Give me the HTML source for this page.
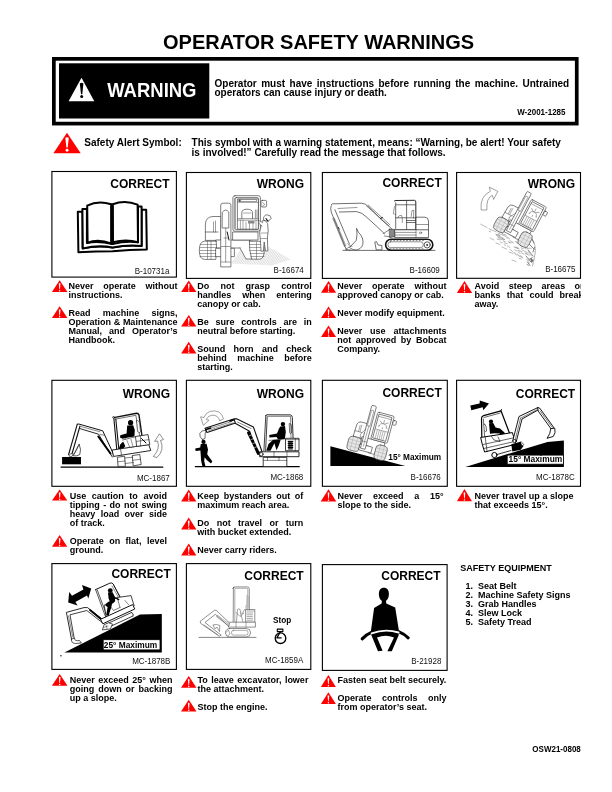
<!DOCTYPE html>
<html><head><meta charset="utf-8"><title>Operator Safety Warnings</title>
<style>
html,body{margin:0;padding:0;background:#fff;}
body{width:612px;height:792px;overflow:hidden;position:relative;}
svg{position:absolute;left:0;top:0;will-change:transform;}
text{font-family:"Liberation Sans",sans-serif;font-weight:bold;}
</style></head><body>
<svg width="612" height="792" viewBox="0 0 612 792">
<defs><clipPath id="pg"><rect x="0" y="0" width="581.1" height="792"/></clipPath></defs>
<rect x="53.85" y="58.85" width="522.9" height="64.75" fill="none" stroke="#000" stroke-width="3.7"/>
<rect x="59" y="63.3" width="150.3" height="55.2" fill="#000"/>
<path d="M81.5 77.8L94.3 101.2L68.6 101.2Z" fill="#fff"/>
<path d="M79.8 83.6Q81.6 81.9 83.4 83.6L82.3 94.2L81.0 94.2Z" fill="#000"/>
<circle cx="81.7" cy="96.6" r="1.5" fill="#000"/>
<path d="M67.0 132.7L80.7 153.2L53.4 153.2Z" fill="#f00"/>
<path d="M65.3 137.8Q67 136.5 68.8 137.8L67.7 147.6L66.4 147.6Z" fill="#fff"/>
<circle cx="67.05" cy="150.2" r="1.45" fill="#fff"/>
<rect x="51.90" y="171.50" width="124.50" height="105.60" fill="none" stroke="#000" stroke-width="1.10"/>
<rect x="186.40" y="172.50" width="124.40" height="105.90" fill="none" stroke="#000" stroke-width="1.10"/>
<rect x="322.40" y="172.50" width="124.90" height="105.90" fill="none" stroke="#000" stroke-width="1.10"/>
<rect x="456.60" y="172.50" width="123.90" height="105.80" fill="none" stroke="#000" stroke-width="1.10"/>
<rect x="51.90" y="380.30" width="124.50" height="106.00" fill="none" stroke="#000" stroke-width="1.10"/>
<rect x="186.40" y="380.30" width="124.40" height="106.00" fill="none" stroke="#000" stroke-width="1.10"/>
<rect x="322.40" y="380.30" width="124.90" height="106.00" fill="none" stroke="#000" stroke-width="1.10"/>
<rect x="456.60" y="380.30" width="123.90" height="106.00" fill="none" stroke="#000" stroke-width="1.10"/>
<rect x="51.90" y="563.60" width="124.50" height="105.80" fill="none" stroke="#000" stroke-width="1.10"/>
<rect x="186.40" y="563.60" width="124.40" height="105.80" fill="none" stroke="#000" stroke-width="1.10"/>
<rect x="322.40" y="564.60" width="124.70" height="105.80" fill="none" stroke="#000" stroke-width="1.10"/>
<path d="M59.65 280.20L67.40 291.90L51.90 291.90Z" fill="#f00"/>
<path d="M58.80 283.62Q59.65 282.62 60.50 283.62L59.95 289.33L59.35 289.33Z" fill="#fff"/>
<circle cx="59.65" cy="290.67" r="0.75" fill="#fff"/>
<path d="M59.65 306.30L67.40 318.10L51.90 318.10Z" fill="#f00"/>
<path d="M58.80 309.75Q59.65 308.75 60.50 309.75L59.95 315.50L59.35 315.50Z" fill="#fff"/>
<circle cx="59.65" cy="316.86" r="0.75" fill="#fff"/>
<path d="M188.75 280.50L196.40 292.10L181.10 292.10Z" fill="#f00"/>
<path d="M187.90 283.90Q188.75 282.90 189.60 283.90L189.05 289.55L188.45 289.55Z" fill="#fff"/>
<circle cx="188.75" cy="290.88" r="0.75" fill="#fff"/>
<path d="M188.75 314.90L196.40 326.50L181.10 326.50Z" fill="#f00"/>
<path d="M187.90 318.30Q188.75 317.30 189.60 318.30L189.05 323.95L188.45 323.95Z" fill="#fff"/>
<circle cx="188.75" cy="325.28" r="0.75" fill="#fff"/>
<path d="M188.75 341.70L196.40 353.50L181.10 353.50Z" fill="#f00"/>
<path d="M187.90 345.15Q188.75 344.15 189.60 345.15L189.05 350.90L188.45 350.90Z" fill="#fff"/>
<circle cx="188.75" cy="352.26" r="0.75" fill="#fff"/>
<path d="M328.55 281.00L336.10 292.80L321.00 292.80Z" fill="#f00"/>
<path d="M327.70 284.45Q328.55 283.45 329.40 284.45L328.85 290.20L328.25 290.20Z" fill="#fff"/>
<circle cx="328.55" cy="291.56" r="0.75" fill="#fff"/>
<path d="M328.55 306.40L336.10 318.10L321.00 318.10Z" fill="#f00"/>
<path d="M327.70 309.82Q328.55 308.82 329.40 309.82L328.85 315.53L328.25 315.53Z" fill="#fff"/>
<circle cx="328.55" cy="316.87" r="0.75" fill="#fff"/>
<path d="M328.55 325.50L336.10 337.10L321.00 337.10Z" fill="#f00"/>
<path d="M327.70 328.90Q328.55 327.90 329.40 328.90L328.85 334.55L328.25 334.55Z" fill="#fff"/>
<circle cx="328.55" cy="335.88" r="0.75" fill="#fff"/>
<path d="M464.50 280.90L472.20 292.90L456.80 292.90Z" fill="#f00"/>
<path d="M463.65 284.40Q464.50 283.40 465.35 284.40L464.80 290.26L464.20 290.26Z" fill="#fff"/>
<circle cx="464.50" cy="291.64" r="0.75" fill="#fff"/>
<path d="M59.65 489.60L67.30 500.60L52.00 500.60Z" fill="#f00"/>
<path d="M58.80 492.85Q59.65 491.85 60.50 492.85L59.95 498.18L59.35 498.18Z" fill="#fff"/>
<circle cx="59.65" cy="499.45" r="0.75" fill="#fff"/>
<path d="M59.65 535.10L67.30 546.80L52.00 546.80Z" fill="#f00"/>
<path d="M58.80 538.52Q59.65 537.52 60.50 538.52L59.95 544.23L59.35 544.23Z" fill="#fff"/>
<circle cx="59.65" cy="545.57" r="0.75" fill="#fff"/>
<path d="M188.75 489.60L196.40 501.50L181.10 501.50Z" fill="#f00"/>
<path d="M187.90 493.08Q188.75 492.08 189.60 493.08L189.05 498.88L188.45 498.88Z" fill="#fff"/>
<circle cx="188.75" cy="500.25" r="0.75" fill="#fff"/>
<path d="M188.75 517.50L196.40 529.60L181.10 529.60Z" fill="#f00"/>
<path d="M187.90 521.02Q188.75 520.02 189.60 521.02L189.05 526.94L188.45 526.94Z" fill="#fff"/>
<circle cx="188.75" cy="528.33" r="0.75" fill="#fff"/>
<path d="M188.75 543.50L196.40 555.50L181.10 555.50Z" fill="#f00"/>
<path d="M187.90 547.00Q188.75 546.00 189.60 547.00L189.05 552.86L188.45 552.86Z" fill="#fff"/>
<circle cx="188.75" cy="554.24" r="0.75" fill="#fff"/>
<path d="M328.50 489.30L336.30 501.40L320.70 501.40Z" fill="#f00"/>
<path d="M327.65 492.82Q328.50 491.82 329.35 492.82L328.80 498.74L328.20 498.74Z" fill="#fff"/>
<circle cx="328.50" cy="500.13" r="0.75" fill="#fff"/>
<path d="M464.45 489.10L472.00 501.30L456.90 501.30Z" fill="#f00"/>
<path d="M463.60 492.65Q464.45 491.65 465.30 492.65L464.75 498.62L464.15 498.62Z" fill="#fff"/>
<circle cx="464.45" cy="500.02" r="0.75" fill="#fff"/>
<path d="M59.70 673.90L67.50 685.70L51.90 685.70Z" fill="#f00"/>
<path d="M58.85 677.35Q59.70 676.35 60.55 677.35L60.00 683.10L59.40 683.10Z" fill="#fff"/>
<circle cx="59.70" cy="684.46" r="0.75" fill="#fff"/>
<path d="M188.75 676.10L196.50 687.80L181.00 687.80Z" fill="#f00"/>
<path d="M187.90 679.52Q188.75 678.52 189.60 679.52L189.05 685.23L188.45 685.23Z" fill="#fff"/>
<circle cx="188.75" cy="686.57" r="0.75" fill="#fff"/>
<path d="M188.75 699.80L196.50 711.50L181.00 711.50Z" fill="#f00"/>
<path d="M187.90 703.22Q188.75 702.22 189.60 703.22L189.05 708.93L188.45 708.93Z" fill="#fff"/>
<circle cx="188.75" cy="710.27" r="0.75" fill="#fff"/>
<path d="M328.40 674.90L335.90 687.00L320.90 687.00Z" fill="#f00"/>
<path d="M327.55 678.42Q328.40 677.42 329.25 678.42L328.70 684.34L328.10 684.34Z" fill="#fff"/>
<circle cx="328.40" cy="685.73" r="0.75" fill="#fff"/>
<path d="M328.40 692.30L335.90 703.90L320.90 703.90Z" fill="#f00"/>
<path d="M327.55 695.70Q328.40 694.70 329.25 695.70L328.70 701.35L328.10 701.35Z" fill="#fff"/>
<circle cx="328.40" cy="702.68" r="0.75" fill="#fff"/>
<g fill="#fff" stroke="#000" stroke-width="2" stroke-linejoin="round">
<path d="M77.8 211.8H82.6V248.3Q98 245 112.5 247.6Q127 244.6 141.6 245.9V209.8H146.2L146.8 249.4Q130 249.6 112.5 251.2Q96 251.4 78.4 252.2Z"/>
<path d="M82.4 208.9H86.9V243Q98 240.4 112.5 244.1Q126 240.6 138 242.3V206.5H141.6V246Q127 244.6 112.5 247.4Q98 244.8 82.8 248.5Z"/>
<path d="M87.2 205.6Q98 200.3 111.2 204.2V243.4Q98 238.6 87.6 242.7Z"/>
<path d="M112.8 204.2Q125 199.6 137.6 204.6L138 242.2Q126 238.6 113 242.2Z"/>
</g>
<path d="M112 203.6V245" stroke="#000" stroke-width="2.8"/>
<g fill="#fff" stroke="#3a3a3a" stroke-width="0.65" stroke-linejoin="round" stroke-linecap="round">
<defs><clipPath id="hc1"><path d="M231 263.5L246 241.5L258 240.5L290.5 259.5L272 265.5Z"/></clipPath></defs>
<g stroke="#bdbdbd" stroke-width="0.5" clip-path="url(#hc1)">
<path d="M222.0 266L236.0 240"/>
<path d="M223.7 266L237.7 240"/>
<path d="M225.4 266L239.4 240"/>
<path d="M227.1 266L241.1 240"/>
<path d="M228.8 266L242.8 240"/>
<path d="M230.5 266L244.5 240"/>
<path d="M232.2 266L246.2 240"/>
<path d="M233.9 266L247.9 240"/>
<path d="M235.6 266L249.6 240"/>
<path d="M237.3 266L251.3 240"/>
<path d="M239.0 266L253.0 240"/>
<path d="M240.7 266L254.7 240"/>
<path d="M242.4 266L256.4 240"/>
<path d="M244.1 266L258.1 240"/>
<path d="M245.8 266L259.8 240"/>
<path d="M247.5 266L261.5 240"/>
<path d="M249.2 266L263.2 240"/>
<path d="M250.9 266L264.9 240"/>
<path d="M252.6 266L266.6 240"/>
<path d="M254.3 266L268.3 240"/>
<path d="M256.0 266L270.0 240"/>
<path d="M257.7 266L271.7 240"/>
<path d="M259.4 266L273.4 240"/>
<path d="M261.1 266L275.1 240"/>
<path d="M262.8 266L276.8 240"/>
<path d="M264.5 266L278.5 240"/>
<path d="M266.2 266L280.2 240"/>
<path d="M267.9 266L281.9 240"/>
<path d="M269.6 266L283.6 240"/>
<path d="M271.3 266L285.3 240"/>
<path d="M273.0 266L287.0 240"/>
<path d="M274.7 266L288.7 240"/>
<path d="M276.4 266L290.4 240"/>
<path d="M278.1 266L292.1 240"/>
<path d="M279.8 266L293.8 240"/>
<path d="M281.5 266L295.5 240"/>
<path d="M283.2 266L297.2 240"/>
<path d="M284.9 266L298.9 240"/>
<path d="M286.6 266L300.6 240"/>
<path d="M288.3 266L302.3 240"/>
<path d="M290.0 266L304.0 240"/>
<path d="M291.7 266L305.7 240"/>
<path d="M293.4 266L307.4 240"/>
<path d="M295.1 266L309.1 240"/>
</g>
<path d="M205.4 240V224Q205.8 216.8 213 216.5H221V240Z"/>
<path d="M205.4 232H218"/>
<path d="M213.5 222V232M215.5 221V232" stroke-width="0.5"/>
<path d="M216 240H250V248H216Z"/>
<path d="M233 232H258V240H233Z"/>
<path d="M240 248L246 259H252V241"/>
<path d="M216.2 241.2H204.5Q199.3 241.6 199.3 250.3Q199.3 259.2 204.5 259.4H215.8Q217.4 250 216.2 241.2Z"/>
<path d="M200.6 244.5H216.4M200.2 247.5H216.6M200 250.5H216.7M200 253.5H216.6M200 256.5H216.3M207.5 241.5V259M211 241.5V259" stroke-width="0.45"/>
<path d="M249.4 241.2H258.8Q264.3 241.8 264.3 250.3Q264.2 259 259.5 259.2H251.7Q249 250 249.4 241.2Z"/>
<path d="M249.6 244.5H263.2M249.6 247.5H263.6M249.8 250.5H263.8M250.3 253.5H263.9M251 256.5H263.9M256.5 242V259" stroke-width="0.45"/>
<path d="M216 248.3H234.4V256.6H216Z"/>
<path d="M220.7 266.5V205.2Q220.8 203.2 223 203.2H228.8Q230.9 203.2 230.9 205.2V266.5Z"/>
<path d="M222.5 212Q225.6 208 228.8 212V228H222.5Z"/>
<path d="M225.7 228V262M224 238H227.8M221.5 246.5H230.2M221.5 262H230.2" stroke-width="0.5"/>
<path d="M227.2 232L229 240" stroke="#111" stroke-width="1"/>
<rect x="232.9" y="195.7" width="27.5" height="35.5" rx="2"/>
<path d="M233.6 198V229.5H235.2V198Z" fill="#bbb" stroke="none"/>
<rect x="235.2" y="197.6" width="23.2" height="32" rx="1"/>
<rect x="237.8" y="198.9" width="20.6" height="30.3"/>
<path d="M237.8 202.3H258.4M241 199.5H256.5V201.6H241Z" stroke-width="0.5"/>
<path d="M238.5 199.3H240.3V201.8H238.5Z" fill="#444" stroke="none"/>
<path d="M241.8 218.5V212.5Q242 209.2 247 209.2Q252.3 209.2 252.5 212.5V218.5"/>
<path d="M243.5 213H251" stroke-width="0.45"/>
<path d="M237.8 218.6H258.4M237.8 220.2H258.4" stroke-width="0.5"/>
<path d="M240.4 220.2V229M243 220.2V229M246 222V229M249.5 222V229M253 222V229M256 220.2V229" stroke-width="0.45"/>
<path d="M248 221H254.5V223.5H248Z" fill="#888" stroke="none"/>
<path d="M255.4 210V218.5M257 210V218.5" stroke="#888" stroke-width="0.9"/>
<rect x="261" y="200.4" width="5.6" height="6.6" rx="1.2"/>
<path d="M262.6 202.5L264.8 204.5L262.6 206" fill="none" stroke-width="0.5"/>
<path d="M263.5 219.5Q263 215.3 267 214.8Q271 214.8 271.2 218.6Q269 221.4 266 221Z"/>
<path d="M266 218.5L268 221.3" stroke="#111" stroke-width="1.1"/>
<path d="M262.4 221L261 226L259.6 232.5L260.4 240L261 251.2H263.4L264.2 242L265.5 251H267.8L267.4 238L268.2 231L267.6 223.5L265.5 221Z"/>
<path d="M262.4 222.5L258.5 220.4L259 223.5L262 226" stroke-width="0.55"/>
<path d="M261 233H267.6M260.7 238.5H267.4" stroke-width="0.45"/>
</g>
<g fill="none" stroke="#333" stroke-width="0.7" stroke-linejoin="round" stroke-linecap="round">
<path d="M342.9 250.4H435"/>
<path d="M331.4 205.2Q331 204 332.5 203.8L361.2 203.2Q366 203.4 368.5 206.8L381.8 220L391.5 228.5"/>
<path d="M339.4 212L356.6 211.6Q362 212.5 366 216.6L376 225.7L384.5 233.8"/>
<path d="M338 208.5L357 207.5" stroke-width="0.5"/>
<path d="M366.5 205.8L388.5 225.6M368.3 205.2L390 224.8" stroke-width="0.55"/>
<path d="M380.5 218.5L382.3 217.5" stroke-width="1.2"/>
<path d="M331 206.3Q330.3 208 331.2 212L346.3 249.8"/>
<path d="M334.9 209.7L349.5 244.2"/>
<path d="M332.8 218.5L344.5 246.5M334.2 218L345.8 245.8" stroke-width="0.5"/>
<path d="M338.5 227.5L339.2 229" stroke-width="1"/>
<path d="M356.7 228.8L358.6 232.5Q364 237.5 362.8 244.5Q361 249.5 356 250Q352 249.8 349.5 247.5L356.2 240.5Q357.6 235 356.7 228.8Z" fill="#fff"/>
<path d="M349.2 246.8L345.8 249.4L351 250.2" stroke-width="0.6"/>
<path d="M347.5 243.8Q349 246 352 246.5" stroke-width="0.5"/>
<path d="M375.2 242L376.5 241.6L378 245L381.8 245.4L382 249.8H376.6Z" fill="#fff"/>
<path d="M394.2 201Q394.4 200.6 396 200.5L414.5 200.3Q416 200.5 415.8 202L415.9 229.8" stroke="#111" stroke-width="0.9"/>
<path d="M395.7 202.8V229.5H415.9M406.6 201V229.5M395.7 204.8H415.5M395.7 217.8H415.5M406.6 220.5H415.5M406.6 222.5H415.5"/>
<path d="M394.5 206.5L393.3 213.5L395.7 214.5" stroke-width="0.5"/>
<path d="M397.5 217.8Q398.5 215 401.5 215.3Q402.8 218 402.3 222.5M411.2 216.5L412 210.5L413.8 210.3L413.5 218" stroke-width="0.5"/>
<path d="M416.3 217.2H425Q428.4 217.4 428.5 221V230.3H416.3Z" fill="#fff"/>
<path d="M416.3 224.5H428.5" stroke-width="0.5"/>
<path d="M395 229.8H428.5V237.5H395Z" fill="#fff"/>
<path d="M395 232.4H416M395 235H416M416 229.8V237.5" stroke-width="0.5"/>
<ellipse cx="420.5" cy="232.8" rx="1.2" ry="0.8" stroke-width="0.5"/>
<path d="M389.5 229L394.5 229.5L395 236.5L390 237.5Z" fill="#888" stroke="#222" stroke-width="0.6"/>
<path d="M383.5 233.5L389.6 229.5M384.5 236L390 236.8" stroke-width="0.6"/>
<rect x="385.6" y="239.3" width="47.2" height="11" rx="5.5" fill="#fff" stroke="#111" stroke-width="1.6"/>
<rect x="388" y="241.8" width="35.2" height="5.8" rx="2.5" stroke-width="0.55"/>
<circle cx="427.2" cy="244.9" r="3.1" stroke-width="0.8"/>
<circle cx="427.2" cy="244.9" r="1" fill="#333" stroke="none"/>
<path d="M390 248.8H424M390.5 240.4H424" stroke="#333" stroke-width="0.6" stroke-dasharray="1 2.2"/>
</g>
<g fill="none" stroke="#444" stroke-width="0.6" stroke-linejoin="round" stroke-linecap="round">
<path d="M481.1 209.6Q479.6 196.5 490.3 191.3L489.3 187.1L497.8 191.4L493.6 199.4L492.4 195.3Q486 198 486.9 209.6Z" fill="#fff" stroke="#555" stroke-width="0.55"/>
<g stroke="#777" stroke-width="0.5">
<path d="M480.6 224.2L487 227.5M489 228.8L496 231.8M498 233L506 236.5"/>
<path d="M506.3 237.6l1.2 0.7"/>
<path d="M526.8 248.3l2.2 0.5"/>
<path d="M504.4 244.9l1.3 0.3"/>
<path d="M520.1 241.5l1.6 0.4"/>
<path d="M504.4 234.5l1.8 0.9"/>
<path d="M527.1 264.5l1.4 1.0"/>
<path d="M495.7 234.2l2.7 1.0"/>
<path d="M518.4 252.3l1.7 1.0"/>
<path d="M513.8 237.0l1.6 0.4"/>
<path d="M525.1 253.6l2.2 0.8"/>
<path d="M519.6 244.8l2.1 1.5"/>
<path d="M521.3 252.8l2.6 1.3"/>
<path d="M528.8 258.3l1.1 0.9"/>
<path d="M523.6 244.2l2.1 0.6"/>
<path d="M515.1 253.9l2.0 1.3"/>
<path d="M520.2 255.6l2.0 1.2"/>
<path d="M528.9 253.7l2.5 1.8"/>
<path d="M524.9 247.1l2.5 0.6"/>
<path d="M501.3 232.5l1.4 1.0"/>
<path d="M529.2 248.0l2.1 0.4"/>
<path d="M496.8 234.5l2.7 0.6"/>
<path d="M500.7 239.0l2.7 1.1"/>
<path d="M507.3 246.0l2.6 1.4"/>
<path d="M498.3 235.3l1.9 0.7"/>
<path d="M520.9 240.1l1.2 0.9"/>
<path d="M502.4 238.9l2.1 0.7"/>
<path d="M524.9 245.1l2.0 0.4"/>
<path d="M527.3 254.0l2.0 1.6"/>
<path d="M524.9 248.3l1.1 0.7"/>
<path d="M498.0 237.6l2.2 1.7"/>
<path d="M521.0 247.9l2.4 0.6"/>
<path d="M489.2 231.3l1.5 0.5"/>
<path d="M502.7 234.1l1.5 0.3"/>
<path d="M504.5 243.0l2.9 0.6"/>
<path d="M521.0 241.0l1.8 0.6"/>
<path d="M507.1 237.0l2.6 1.9"/>
<path d="M528.5 252.0l1.4 0.3"/>
<path d="M512.4 242.2l1.2 0.9"/>
<path d="M527.0 264.4l1.3 0.7"/>
<path d="M511.9 235.5l2.8 1.4"/>
<path d="M503.6 241.2l1.8 0.6"/>
<path d="M526.3 259.3l2.5 1.2"/>
<path d="M509.8 240.4l2.6 1.8"/>
<path d="M499.2 237.1l2.2 1.5"/>
<path d="M517.9 250.4l1.2 0.5"/>
<path d="M497.0 239.0l2.4 0.8"/>
<path d="M510.1 249.5l2.5 2.0"/>
<path d="M513.9 252.7l1.6 0.5"/>
<path d="M502.2 238.1l2.6 1.5"/>
<path d="M514.6 249.7l2.4 1.4"/>
<path d="M517.1 254.1l2.2 1.7"/>
<path d="M519.2 250.8l2.7 0.8"/>
<path d="M526.0 243.6l1.5 1.3"/>
<path d="M515.9 237.2l1.3 0.8"/>
<path d="M496.3 235.3l2.2 1.7"/>
<path d="M527.6 261.2l1.9 1.6"/>
<path d="M525.6 253.1l1.2 0.3"/>
<path d="M500.2 241.7l2.7 1.4"/>
<path d="M517.6 239.7l1.3 0.9"/>
<path d="M509.0 242.2l2.3 0.7"/>
<path d="M515.1 247.0l2.9 0.8"/>
<path d="M521.7 249.7l2.7 1.4"/>
<path d="M516.3 238.1l2.0 1.0"/>
<path d="M510.5 235.0l1.4 0.6"/>
<path d="M519.2 258.4l2.1 0.6"/>
<path d="M517.0 248.2l2.1 0.8"/>
<path d="M515.4 241.5l2.2 0.6"/>
<path d="M508.1 241.5l1.8 1.2"/>
<path d="M516.2 242.4l1.7 1.3"/>
<path d="M525.0 251.4l2.3 1.1"/>
</g>
<path d="M531 237Q535.5 244 535.3 251Q534.5 258 532.5 266" stroke="#666" stroke-width="0.6" stroke-dasharray="1.5 1"/>
<path d="M528 250L533 256M526 256L531 262M529 244L534 249M531.5 238.5L534 243M533 252L534.5 247.5M530 259.5L532.5 257M527.5 262L530 265.5" stroke="#666" stroke-width="0.8"/>
<path d="M531.2 258.6L533 260.6L531.8 262Z" fill="#555" stroke="#555" stroke-width="0.8"/>
<path d="M490 238L494 240M496 243L500 244.5M502 247L506.5 249M509 252L513 253.5M499 236.5L503 238M514 247L518 248.5M519 256L523 258M512 260L516 261.5" stroke="#777" stroke-width="0.5"/>
</g>
<g transform="translate(529.3 192.4) rotate(28)" fill="#fff" stroke="#3a3a3a" stroke-width="0.6" stroke-linejoin="round" stroke-linecap="round">
<path d="M-12.4 34.5L-12 23Q-11.6 19.3 -8 19H-1.5V34.5Z"/>
<path d="M-12.2 29H-2" stroke-width="0.45"/>
<path d="M-8.5 22.5V28.5M-7 22V28.5" stroke-width="0.4"/>
<path d="M-3.5 33H20V40.5H-3.5Z"/>
<path d="M3 40.5L6.5 47H13V38" stroke-width="0.5"/>
<rect x="-16" y="34.8" width="12.6" height="14.2" rx="4" fill="#e6e6e6"/>
<path d="M-15.6 38.5H-3.8M-16 41.8H-3.4M-15.6 45.2H-3.8M-12 35V48.8M-7.6 35V48.8" stroke="#999" stroke-width="0.35"/>
<rect x="12.6" y="36.2" width="11.6" height="14.8" rx="4" fill="#e6e6e6"/>
<path d="M13 40H23.8M12.7 43.6H24.1M13 47.2H23.8M16.4 36.4V50.8M20.4 36.4V50.8" stroke="#999" stroke-width="0.35"/>
<path d="M-3.5 40.5H9V46.5H-3.5Z"/>
<rect x="5.2" y="5" width="17" height="28" rx="1.4"/>
<rect x="7.2" y="6.8" width="13" height="24.6"/>
<path d="M7.2 9H20.2" stroke-width="0.4"/>
<path d="M9.5 13L18 18.5M18 13L9.5 18.5M13.7 11.5V20" stroke-width="0.4"/>
<path d="M9.8 18.5Q9.8 15 13.7 15Q17.5 15 17.6 18.5" stroke-width="0.4"/>
<path d="M7.2 22H20.2M9.3 22.5V31M11.3 22.5V31M13.3 22.5V31M15.3 22.5V31M17.3 22.5V31" stroke-width="0.35"/>
<rect x="22.5" y="9" width="3.2" height="4.5" rx="0.8"/>
<path d="M-2.4 44V1.2Q-2.4 0 -1.2 0H1.2Q2.4 0 2.4 1.2V44Z"/>
<path d="M-1.1 5Q0 3.8 1.1 5V21H-1.1Z" stroke-width="0.4"/>
<path d="M0 21V42M-2.4 37H2.4" stroke-width="0.4"/>
<path d="M-2.2 25L-6 31L-5 35" stroke-width="0.45"/>
</g>
<g fill="none" stroke="#111" stroke-width="0.8" stroke-linejoin="round" stroke-linecap="round">
<path d="M61 467.1H162.9" stroke="#000" stroke-width="1.1"/>
<rect x="62.1" y="457" width="18.9" height="7.3" fill="#000" stroke="none"/>
<path d="M77.3 424.2L68.6 454.5M80 426L71.5 455.5" stroke-width="1.1"/>
<path d="M69 455.5Q70.5 452.3 73.5 453.8L71.5 456.8Z" fill="#fff" stroke-width="0.7"/>
<path d="M79.3 444.3Q81.5 450 79.8 454.5Q77 456.6 73.2 455.8L77 449Z" fill="#fff" stroke-width="0.7"/>
<path d="M74.5 453L78 446" stroke-width="0.5"/>
<path d="M77.3 424.2L78.8 424L102.7 430.8L114.3 455.8" stroke-width="1"/>
<path d="M80 428.6L98.5 434.2L112.3 457" stroke-width="0.9"/>
<path d="M81 426.5L100 431.8" stroke-width="0.5"/>
<path d="M98.3 436.5L110.5 453.5" stroke="#000" stroke-width="2"/>
<path d="M100 434.5L104 435.2" stroke-width="0.5"/>
<path d="M113.8 417.6L136.6 413.2Q138.5 413.2 139 415L142 436" stroke-width="1.4"/>
<path d="M115.2 419.2L135.8 415.3L139.8 436.2" stroke-width="0.6"/>
<path d="M113.8 417.6L117 452M115.8 419L119 451" stroke-width="1.1"/>
<circle cx="113.6" cy="417.4" r="0.9" fill="#fff"/>
<path d="M136.8 420.5Q139.5 420 139.8 425L140.5 431.5Q140 433.5 138 432Z" fill="#fff" stroke-width="0.6"/>
<circle cx="130.6" cy="422.7" r="2.6" fill="#000" stroke="none"/>
<path d="M127.2 425.6L133.2 425.2L134.8 430L134.4 436.5L128 437.6L122.5 438.8L120 437.5L120.3 435.2Q124 434 126.6 433.4Z" fill="#000" stroke="none"/>
<path d="M118 451.5L120.2 444.5L125.5 439.3L128.5 440.2L127.5 443.8L123.3 448.5L121.8 452Z" fill="#000" stroke="none"/>
<path d="M125.5 438.8L130 443" stroke-width="0.6"/>
<path d="M112.5 450L148.7 444.5L150.8 450.5L113.8 456.4Z" fill="#fff" stroke-width="0.9"/>
<path d="M120.5 448.5L121.5 455" stroke-width="0.6"/>
<path d="M135.5 436.5L148 434.6L149.8 444.6L136.8 446.4Z" fill="#fff" stroke-width="0.8"/>
<path d="M136 441.5L148.8 439.6M140.5 436V445.8" stroke-width="0.5"/>
<path d="M141.5 438.5L146 443" stroke="#000" stroke-width="1"/>
<path d="M122.5 440L135.5 436.8L136.6 446.3L126 447.8" fill="#fff" stroke-width="0.6"/>
<path d="M127 440.5L129.5 446.8M131 439.5L133 446.5" stroke-width="0.45"/>
<path d="M117.8 457.2L124.6 456.2L125.4 466.4H118.4Z" fill="#fff" stroke-width="0.7"/>
<path d="M118 461.8L125 461" stroke-width="0.5"/>
<path d="M132.6 455.5L139.8 454.5L141.2 464.5L133.6 465.8Z" fill="#fff" stroke-width="0.7"/>
<path d="M133 460.2L140.5 459.3" stroke-width="0.5"/>
<path d="M125 458L132.8 457.2M125.3 463.5L133.4 462.5" stroke-width="0.5"/>
<path d="M157.2 457.3Q165 450 160.5 440.5L163.5 439.5L159.5 433.8L154.6 441.4L157.6 441Q160.4 449 153.6 456.2Z" fill="#fff" stroke="#333" stroke-width="0.55"/>
</g>
<g fill="none" stroke="#111" stroke-width="0.8" stroke-linejoin="round" stroke-linecap="round">
<path d="M195.3 466.6H299.3" stroke="#000" stroke-width="1.1"/>
<circle cx="203.5" cy="441.9" r="2.1" fill="#000" stroke="none"/>
<path d="M200.8 444L206.5 443.8L208 449.5L207.2 454.2L209.5 457.6L212.3 461.2L211 463.4L207 460.2L204.6 457.3L204.2 461L205.4 466L202.4 466.4L201.1 460.5L200.7 454.6L200.4 450.6L195.6 451L195.2 448.6L200.2 447.6Z" fill="#000" stroke="none"/>
<path d="M205.8 430.3Q201 430 199.8 433.5Q199.3 437 202.3 439.5L205 438.5L205.2 433.5Z" fill="#fff" stroke-width="0.6"/>
<path d="M202.5 439.2L203.2 441" stroke-width="0.6"/>
<path d="M205 428.2L233.6 419L236.2 419L237 422.4L207 432.6Z" fill="#fff" stroke-width="1.1"/>
<path d="M208.5 428.8L232 421.4M209 430.4L233 422.8" stroke-width="0.5" stroke-dasharray="1.6 0.9"/>
<path d="M206.2 429.6L210.5 428M230 421L235 419.6" stroke="#000" stroke-width="1.6"/>
<path d="M234 419.2L236.6 418.8L253.4 427L262.2 452.2L258 454.4L249.6 431.2L235.6 423.6Z" fill="#fff" stroke-width="1.1"/>
<path d="M237.5 422L251.2 428.6" stroke-width="0.5"/>
<path d="M248.6 432.8L258.2 453" stroke="#000" stroke-width="3"/>
<path d="M249.3 435.8L252.4 434.6M250.9 439.6L254 438.4M252.7 443.6L255.8 442.4M254.5 447.6L257.6 446.4" stroke="#fff" stroke-width="0.6"/>
<path d="M223.4 418.5Q221 409 210 411.3Q205.5 413 204 417.5L200.6 416.8L203.4 425.3L209 420.2L206.2 419.6Q208 415.5 212 415.2Q218.5 415 219.6 420.5Z" fill="#fff" stroke="#555" stroke-width="0.55"/>
<path d="M265.7 415.5Q266 414.8 267 414.8L290.5 414.9Q292.2 415.2 292.3 417.5L293.1 438.3" stroke-width="0.9"/>
<path d="M265.8 415.4L263.9 451M267.2 416.6L265.6 451" stroke-width="0.8"/>
<path d="M268.3 416.4H290.5L291 438" stroke-width="0.5"/>
<path d="M289.6 423.5Q291.5 423.5 291.5 426V433Q290.5 434.5 289.8 433Z" stroke-width="0.6"/>
<circle cx="282.9" cy="424.1" r="2.2" fill="#000" stroke="none"/>
<path d="M280.3 426.4L285 426L285.8 432L284.8 439.2L278.2 439.4L276.5 437L269.5 437.6L269.2 435L277 433.6L279 428.5Z" fill="#000" stroke="none"/>
<path d="M266.3 450.8L268.5 444L272.8 440L280.8 439.5L278.8 445.5L276.5 450.2L274.4 443.2L270.5 450.8Z" fill="#000" stroke="none"/>
<path d="M269 440.5L282 439" stroke-width="0.5"/>
<rect x="285.9" y="438.3" width="13.1" height="12.4" fill="#fff" stroke-width="0.8"/>
<path d="M288.2 441.5H292.8M288.2 443.5H292.8M288.2 445.5H292.8M288.2 447.5H292.8" stroke="#000" stroke-width="1"/>
<rect x="288.2" y="440.8" width="4.6" height="8.8" fill="#000" stroke="none" opacity="0.75"/>
<path d="M286 439.6H299M295.3 438.5V450.7" stroke-width="0.5"/>
<rect x="260" y="451.8" width="39" height="4.9" fill="#fff" stroke-width="0.9"/>
<path d="M274 451.8V456.7M287 451.8V456.7" stroke-width="0.5"/>
<circle cx="261.3" cy="454.2" r="1.8" fill="#fff" stroke-width="0.8"/>
<rect x="263.6" y="457.4" width="23.2" height="9.2" fill="#fff" stroke-width="0.8"/>
<path d="M263.6 460.4H286.8M267.5 457.4V460.4M279 457.4V460.4" stroke-width="0.5"/>
</g>
<path d="M330.4 446.3L405.3 466.1H330.4Z" fill="#000"/>
<g transform="translate(374.2 405.8) rotate(15)" fill="#fff" stroke="#3a3a3a" stroke-width="0.6" stroke-linejoin="round" stroke-linecap="round">
<path d="M-12.4 34.5L-12 23Q-11.6 19.3 -8 19H-1.5V34.5Z"/>
<path d="M-12.2 29H-2" stroke-width="0.45"/>
<path d="M-8.5 22.5V28.5M-7 22V28.5" stroke-width="0.4"/>
<path d="M-3.5 33H20V40.5H-3.5Z"/>
<path d="M3 40.5L6.5 47H13V38" stroke-width="0.5"/>
<rect x="-16" y="34.8" width="12.6" height="14.2" rx="4" fill="#e6e6e6"/>
<path d="M-15.6 38.5H-3.8M-16 41.8H-3.4M-15.6 45.2H-3.8M-12 35V48.8M-7.6 35V48.8" stroke="#999" stroke-width="0.35"/>
<rect x="12.6" y="36.2" width="11.6" height="14.8" rx="4" fill="#e6e6e6"/>
<path d="M13 40H23.8M12.7 43.6H24.1M13 47.2H23.8M16.4 36.4V50.8M20.4 36.4V50.8" stroke="#999" stroke-width="0.35"/>
<path d="M-3.5 40.5H9V46.5H-3.5Z"/>
<rect x="5.2" y="5" width="17" height="28" rx="1.4"/>
<rect x="7.2" y="6.8" width="13" height="24.6"/>
<path d="M7.2 9H20.2" stroke-width="0.4"/>
<path d="M9.5 13L18 18.5M18 13L9.5 18.5M13.7 11.5V20" stroke-width="0.4"/>
<path d="M9.8 18.5Q9.8 15 13.7 15Q17.5 15 17.6 18.5" stroke-width="0.4"/>
<path d="M7.2 22H20.2M9.3 22.5V31M11.3 22.5V31M13.3 22.5V31M15.3 22.5V31M17.3 22.5V31" stroke-width="0.35"/>
<rect x="22.5" y="9" width="3.2" height="4.5" rx="0.8"/>
<path d="M-2.4 44V1.2Q-2.4 0 -1.2 0H1.2Q2.4 0 2.4 1.2V44Z"/>
<path d="M-1.1 5Q0 3.8 1.1 5V21H-1.1Z" stroke-width="0.4"/>
<path d="M0 21V42M-2.4 37H2.4" stroke-width="0.4"/>
<path d="M-2.2 25L-6 31L-5 35" stroke-width="0.45"/>
</g>
<path d="M465.3 466.9L521 450L547.5 442L563.9 440.6V466.9Z" fill="#000"/>
<rect x="507.2" y="455.1" width="56.3" height="9.1" fill="#fff" stroke="#000" stroke-width="0.8"/>
<path d="M470.3 405.6L479.6 403.6L479.8 400.4L489 403.4L483.3 410.3L482.7 407.3L471.3 410.2Z" fill="#000"/>
<g fill="none" stroke="#000" stroke-width="0.9" stroke-linejoin="round" stroke-linecap="round">
<path d="M481.8 437L481.5 418.5Q481.5 416.2 483.6 415.7L501 410.8L511.8 439.2" stroke-width="1.2"/>
<path d="M483.4 419L484.6 436.5M484 417.5L500.2 413" stroke-width="0.6"/>
<path d="M500.8 410.6L501.5 409.5" stroke-width="1"/>
<path d="M483.8 424Q485.6 423.8 486 426.5L486.6 431Q485.5 432.5 484.8 431" stroke-width="0.6"/>
<circle cx="491" cy="421.5" r="2.1" fill="#000" stroke="none"/>
<path d="M489 423.3L493.2 423L495.6 427.5L500 428.6L504.5 432.5L505.6 436.5L503.3 437.2L499.5 433.6L494.5 433.2L490 433.8Z" fill="#000" stroke="none"/>
<path d="M481 437.4L512.4 432.6L514.2 438.6L516 444.2L484.6 452L482.5 445Z" fill="#fff" stroke-width="1"/>
<path d="M482.8 444.6L515 437.5M483.9 448.5L515.8 441.2" stroke-width="0.6"/>
<path d="M485.2 437.2L487 451.2" stroke-width="0.6"/>
<path d="M491.5 436.5L494 440L500 441.5L498 437" stroke-width="0.6"/>
<circle cx="494.4" cy="455" r="2.6" fill="#fff" stroke-width="1"/>
<path d="M497 454.5L511 450.5" stroke-width="0.8"/>
<path d="M511.3 444.2L520.5 441.8L523.5 446L520.8 449.8L512.3 451.5Z" fill="#000" stroke="none"/>
<path d="M521 441.5L523.8 444.5L522 446" fill="#fff" stroke-width="0.6"/>
<path d="M512.8 440.6L519 416.5L537.8 407.6L539.8 409L522 419L516.3 441.5Z" fill="#fff" stroke-width="0.9"/>
<path d="M515 440.8L520.6 418" stroke-width="0.5"/>
<path d="M521 418L536.5 410" stroke-width="0.5"/>
<circle cx="514.5" cy="441" r="1.6" fill="#fff" stroke-width="0.8"/>
<path d="M537.8 407.6L539.8 408.2L553.8 427.5L551.2 429L538.5 411.5Z" fill="#fff" stroke-width="0.9"/>
<path d="M540.2 411L551.5 426.5" stroke-width="0.5"/>
<path d="M551.2 428.5L554.8 428.2Q556 433 553.2 436.5L547 438.3L549.5 434Z" fill="#fff" stroke-width="0.9"/>
</g>
<path d="M64.4 652.4L140 614.6L161.8 614V652.4Z" fill="#000"/>
<rect x="103.2" y="639.7" width="56.8" height="10.2" fill="#fff" stroke="#000" stroke-width="0.8"/>
<path d="M60 655.8H61.8" stroke="#000" stroke-width="0.8"/>
<path d="M69.2 592L72 595.8L83.4 589.4L82 585L91.2 588.4L88.3 598.6L87 595.6L75.4 602L77.6 605.6L68.2 602.5Z" fill="#000"/>
<g fill="none" stroke="#111" stroke-width="0.8" stroke-linejoin="round" stroke-linecap="round">
<path d="M103.8 620.4L87.5 607.6L84 607.6L66.4 612.4L66.8 614.6L71.6 639.6" stroke-width="0.9"/>
<path d="M102.5 622.8L86.8 610.5L70 614.8L74.3 638.8" stroke-width="0.8"/>
<path d="M90 610L101.5 619.5" stroke="#000" stroke-width="1.8"/>
<path d="M68.5 616L72.8 637" stroke-width="0.5"/>
<path d="M71.4 639.5Q71 643.2 75.5 643.5L81.3 643L79.5 640.5Q75 641.5 74.2 638.5Z" fill="#fff" stroke-width="0.7"/>
<path d="M95.6 589.6L109.8 583.2Q112.2 582.3 113.2 584L122 600.8" stroke-width="1"/>
<path d="M95.6 589.6L106.2 618.5M97.3 590L107.6 617.8" stroke-width="0.7"/>
<path d="M112 586L120 600M113.7 585.5L121.6 599.5" stroke-width="0.5" stroke-dasharray="1 0.8"/>
<path d="M104.5 605L117.2 597.5L131 595.6L134.2 606L107 619.5Z" fill="#fff" stroke-width="0.8"/>
<path d="M117.2 597.5L120 607.5M110 606L113.5 610.5L120 607.5M125 600.5L128.5 604.5" stroke-width="0.55"/>
<path d="M100.8 619.2L132.6 604.6L134.8 609L103.2 623.6Z" fill="#fff" stroke-width="1"/>
<circle cx="110.3" cy="590.6" r="2.4" fill="#000" stroke="none"/>
<path d="M108 592.6L112.6 592.2L114.8 596.5L115.2 601.2L112.8 603.6L110.4 603.2L108.6 598.5Z" fill="#000" stroke="none"/>
<path d="M108.8 601.6L112.4 602.6L111.2 607.5L108.6 615.8L106.2 615.2L107.6 607L105.2 605.6L106.5 603.5Z" fill="#000" stroke="none"/>
<path d="M114.6 597.5L118.8 599.6" stroke="#000" stroke-width="1.2"/>
<path d="M104.5 625L131.5 612.5M105.8 628.6L133 616" stroke-width="0.8"/>
<path d="M131.5 612.5Q134.5 613.5 133 616" stroke-width="0.8"/>
<path d="M102.5 629.5L104.2 624.5L108.5 622.8L112.5 624L110.5 628.6Z" fill="#fff" stroke-width="0.7"/>
<path d="M103.8 627.5L108 626M106 625L107 628.5" stroke-width="0.45"/>
</g>
<g fill="none" stroke="#444" stroke-width="0.6" stroke-linejoin="round" stroke-linecap="round">
<path d="M198.9 637.4H256" stroke="#555" stroke-width="0.7"/>
<path d="M233.2 622.2L233.4 588.5Q233.5 586.9 235.5 586.9H247.2Q249.2 587 249.3 589L249.4 609.5"/>
<path d="M234.8 622V589.2Q235 588.3 236 588.3H246.8Q247.8 588.4 247.8 589.4V609.5" stroke-width="0.45"/>
<path d="M233 588.5L233.8 587.2" stroke-width="0.9"/>
<path d="M247 595L246.5 606M248.2 596V608" stroke="#888" stroke-width="0.5"/>
<path d="M236.5 622L237.5 609.5Q238.5 608 240 609.5L241 613M240.5 613L243 622M242 614L244.5 609.5M246 606L246.5 613" stroke-width="0.5"/>
<path d="M236 612.5L240 616.5L243.8 613" stroke-width="0.5"/>
<rect x="246" y="609.5" width="8.8" height="12.7" fill="#fff"/>
<path d="M247 611H254M247 613H252.5M247 614.8H252.5M247 616.6H252.5M247 618.4H252.5M247 620.2H252.5" stroke-width="0.45"/>
<rect x="228.8" y="622.2" width="26.6" height="4.9" fill="#fff"/>
<path d="M236 622.2V627.1M246 622.2V627.1" stroke-width="0.45"/>
<rect x="225.5" y="628.5" width="25" height="8.4" rx="4" fill="#fff"/>
<rect x="231.5" y="630.3" width="16.5" height="4.8" rx="2" stroke-width="0.45"/>
<path d="M226 632.5L228.5 630L230 634L227.5 636" stroke-width="0.45"/>
<path d="M229.2 622.8L216.2 610.2L214.5 610.3L200.3 621.2L200.5 623.2L219.2 636.2L221.2 635.2L205 622.5L215.3 614.3L228.6 626Z" fill="#fff"/>
<path d="M216.3 616.5L227.5 625.2M217.5 615.3L228.6 624" stroke-width="0.45"/>
<path d="M204 625L217.5 634.5" stroke-width="0.45"/>
<path d="M213.3 624.8Q216.8 623.8 219.8 625.5L219.5 631.5L217 627.2L215.2 628.5Z" fill="#fff" stroke-width="0.55"/>
</g>
<g fill="none" stroke="#000" stroke-linejoin="round">
<circle cx="280.5" cy="638.2" r="5.3" stroke-width="1.35"/>
<rect x="277.3" y="629.1" width="5.6" height="2.5" fill="#fff" stroke-width="1.1"/>
<path d="M280.4 631.8L276.9 637.9H281.6" stroke-width="1.3"/>
</g>
<g fill="#000" stroke="none">
<path d="M383.9 587.8C387.3 587.8 389 590.5 388.9 594.2C388.8 598.5 386.5 601.4 383.9 601.4C381.3 601.4 379 598.5 378.9 594.2C378.8 590.5 380.5 587.8 383.9 587.8Z"/>
<path d="M382 600L385.9 600L386.3 603.6L395.2 607.4L399.1 631.8L370.7 632.6L374.1 608L381.6 603.6Z"/>
<path d="M370.8 631.5Q385 627.5 399.1 631.2L398.6 635.4L391.8 651.2H387.4L394 637.6Q385.5 633.8 377 637.6L382.6 650.8L378 651.2L371.5 635.6Z"/>
</g>
<path d="M371.4 632.4Q366 634.6 362.2 638.9M398.6 631.6Q404 633.8 408.2 637.8" stroke="#000" stroke-width="3.1" stroke-linecap="round" fill="none"/>
<path d="M371.6 633.3Q385.4 628.3 398.6 632.5" stroke="#fff" stroke-width="1.9" stroke-linecap="round" fill="none"/>
<g clip-path="url(#pg)">
<text x="163.00" y="48.90" font-size="20">OPERATOR SAFETY WARNINGS</text>
<text x="107.20" y="96.80" font-size="19.6" fill="#fff" textLength="89.3" lengthAdjust="spacingAndGlyphs">WARNING</text>
<text y="86.80" font-size="10"><tspan x="214.50">Operator</tspan><tspan x="261.20">must</tspan><tspan x="289.56">have</tspan><tspan x="316.83">instructions</tspan><tspan x="378.52">before</tspan><tspan x="413.56">running</tspan><tspan x="455.24">the</tspan><tspan x="474.71">machine.</tspan><tspan x="522.53">Untrained</tspan></text>
<text x="214.50" y="95.80" font-size="10">operators can cause injury or death.</text>
<text x="517.20" y="114.60" font-size="8.5" textLength="48.31" lengthAdjust="spacingAndGlyphs">W-2001-1285</text>
<text x="84.30" y="146.00" font-size="10">Safety Alert Symbol:</text>
<text x="191.60" y="145.60" font-size="10">This symbol with a warning statement, means: “Warning, be alert! Your safety</text>
<text x="191.60" y="155.90" font-size="10">is involved!” Carefully read the message that follows.</text>
<text x="169.60" y="187.50" font-size="12" text-anchor="end">CORRECT</text>
<text x="169.40" y="273.50" font-size="8.5" text-anchor="end" style="font-weight:normal" fill="#111" textLength="34.70" lengthAdjust="spacingAndGlyphs">B-10731a</text>
<text x="304.00" y="187.90" font-size="12" text-anchor="end">WRONG</text>
<text x="303.80" y="273.30" font-size="8.5" text-anchor="end" style="font-weight:normal" fill="#111" textLength="30.25" lengthAdjust="spacingAndGlyphs">B-16674</text>
<text x="441.80" y="186.80" font-size="12" text-anchor="end">CORRECT</text>
<text x="439.80" y="272.90" font-size="8.5" text-anchor="end" style="font-weight:normal" fill="#111" textLength="30.25" lengthAdjust="spacingAndGlyphs">B-16609</text>
<text x="575.00" y="188.10" font-size="12" text-anchor="end">WRONG</text>
<text x="575.40" y="271.90" font-size="8.5" text-anchor="end" style="font-weight:normal" fill="#111" textLength="30.25" lengthAdjust="spacingAndGlyphs">B-16675</text>
<text x="170.00" y="397.50" font-size="12" text-anchor="end">WRONG</text>
<text x="169.80" y="480.50" font-size="8.5" text-anchor="end" style="font-weight:normal" fill="#111" textLength="32.90" lengthAdjust="spacingAndGlyphs">MC-1867</text>
<text x="304.00" y="397.50" font-size="12" text-anchor="end">WRONG</text>
<text x="303.30" y="480.30" font-size="8.5" text-anchor="end" style="font-weight:normal" fill="#111" textLength="32.90" lengthAdjust="spacingAndGlyphs">MC-1868</text>
<text x="441.80" y="396.90" font-size="12" text-anchor="end">CORRECT</text>
<text x="440.80" y="480.30" font-size="8.5" text-anchor="end" style="font-weight:normal" fill="#111" textLength="30.25" lengthAdjust="spacingAndGlyphs">B-16676</text>
<text x="575.20" y="397.50" font-size="12" text-anchor="end">CORRECT</text>
<text x="574.80" y="479.90" font-size="8.5" text-anchor="end" style="font-weight:normal" fill="#111" textLength="38.68" lengthAdjust="spacingAndGlyphs">MC-1878C</text>
<text x="170.80" y="578.40" font-size="12" text-anchor="end">CORRECT</text>
<text x="170.40" y="663.50" font-size="8.5" text-anchor="end" style="font-weight:normal" fill="#111" textLength="38.24" lengthAdjust="spacingAndGlyphs">MC-1878B</text>
<text x="303.70" y="579.50" font-size="12" text-anchor="end">CORRECT</text>
<text x="303.30" y="663.30" font-size="8.5" text-anchor="end" style="font-weight:normal" fill="#111" textLength="38.24" lengthAdjust="spacingAndGlyphs">MC-1859A</text>
<text x="440.60" y="579.90" font-size="12" text-anchor="end">CORRECT</text>
<text x="441.40" y="663.90" font-size="8.5" text-anchor="end" style="font-weight:normal" fill="#111" textLength="30.25" lengthAdjust="spacingAndGlyphs">B-21928</text>
<text y="288.70" font-size="9"><tspan x="68.50">Never</tspan><tspan x="103.21">operate</tspan><tspan x="145.41">without</tspan></text>
<text x="68.50" y="297.70" font-size="9">instructions.</text>
<text y="315.70" font-size="9"><tspan x="68.50">Read</tspan><tspan x="102.69">machine</tspan><tspan x="151.39">signs,</tspan></text>
<text y="324.70" font-size="9"><tspan x="68.50">Operation</tspan><tspan x="113.69">&amp;</tspan><tspan x="122.89">Maintenance</tspan></text>
<text y="333.70" font-size="9"><tspan x="68.50">Manual,</tspan><tspan x="108.94">and</tspan><tspan x="131.89">Operator’s</tspan></text>
<text x="68.50" y="342.70" font-size="9">Handbook.</text>
<text y="288.90" font-size="9"><tspan x="197.30">Do</tspan><tspan x="220.43">not</tspan><tspan x="245.56">grasp</tspan><tspan x="281.20">control</tspan></text>
<text y="297.90" font-size="9"><tspan x="197.30">handles</tspan><tspan x="242.25">when</tspan><tspan x="276.20">entering</tspan></text>
<text x="197.30" y="306.90" font-size="9">canopy or cab.</text>
<text y="324.90" font-size="9"><tspan x="197.30">Be</tspan><tspan x="215.52">sure</tspan><tspan x="241.25">controls</tspan><tspan x="283.47">are</tspan><tspan x="303.70">in</tspan></text>
<text x="197.30" y="333.90" font-size="9">neutral before starting.</text>
<text y="351.90" font-size="9"><tspan x="197.30">Sound</tspan><tspan x="233.59">horn</tspan><tspan x="261.88">and</tspan><tspan x="286.18">check</tspan></text>
<text y="360.90" font-size="9"><tspan x="197.30">behind</tspan><tspan x="237.24">machine</tspan><tspan x="284.19">before</tspan></text>
<text x="197.30" y="369.90" font-size="9">starting.</text>
<text y="288.90" font-size="9"><tspan x="337.20">Never</tspan><tspan x="372.06">operate</tspan><tspan x="414.41">without</tspan></text>
<text x="337.20" y="297.90" font-size="9">approved canopy or cab.</text>
<text x="337.20" y="315.90" font-size="9">Never modify equipment.</text>
<text y="333.90" font-size="9"><tspan x="337.20">Never</tspan><tspan x="370.05">use</tspan><tspan x="393.38">attachments</tspan></text>
<text y="342.90" font-size="9"><tspan x="337.20">not</tspan><tspan x="355.76">approved</tspan><tspan x="400.83">by</tspan><tspan x="415.90">Bobcat</tspan></text>
<text x="337.20" y="351.90" font-size="9">Company.</text>
<text y="288.80" font-size="9"><tspan x="474.50">Avoid</tspan><tspan x="508.63">steep</tspan><tspan x="541.61">areas</tspan><tspan x="574.60">or</tspan></text>
<text y="297.80" font-size="9"><tspan x="474.50">banks</tspan><tspan x="506.70">that</tspan><tspan x="529.39">could</tspan><tspan x="559.58">break</tspan></text>
<text x="474.50" y="306.80" font-size="9">away.</text>
<text y="498.70" font-size="9"><tspan x="69.80">Use</tspan><tspan x="91.84">caution</tspan><tspan x="129.37">to</tspan><tspan x="143.39">avoid</tspan></text>
<text y="507.70" font-size="9"><tspan x="69.80">tipping</tspan><tspan x="103.19">-</tspan><tspan x="109.60">do</tspan><tspan x="124.00">not</tspan><tspan x="141.40">swing</tspan></text>
<text y="516.70" font-size="9"><tspan x="69.80">heavy</tspan><tspan x="100.67">load</tspan><tspan x="124.53">over</tspan><tspan x="148.89">side</tspan></text>
<text x="69.80" y="525.70" font-size="9">of track.</text>
<text y="543.70" font-size="9"><tspan x="69.80">Operate</tspan><tspan x="109.17">on</tspan><tspan x="125.52">flat,</tspan><tspan x="146.88">level</tspan></text>
<text x="69.80" y="552.70" font-size="9">ground.</text>
<text y="498.70" font-size="9"><tspan x="197.30">Keep</tspan><tspan x="223.80">bystanders</tspan><tspan x="276.32">out</tspan><tspan x="294.81">of</tspan></text>
<text x="197.30" y="507.70" font-size="9">maximum reach area.</text>
<text y="525.70" font-size="9"><tspan x="197.30">Do</tspan><tspan x="216.67">not</tspan><tspan x="238.04">travel</tspan><tspan x="269.43">or</tspan><tspan x="285.81">turn</tspan></text>
<text x="197.30" y="534.70" font-size="9">with bucket extended.</text>
<text x="197.30" y="552.70" font-size="9">Never carry riders.</text>
<text y="498.60" font-size="9"><tspan x="337.40">Never</tspan><tspan x="373.10">exceed</tspan><tspan x="414.30">a</tspan><tspan x="429.99">15°</tspan></text>
<text x="337.40" y="507.60" font-size="9">slope to the side.</text>
<text y="498.60" font-size="9"><tspan x="474.50">Never</tspan><tspan x="502.16">travel</tspan><tspan x="528.81">up</tspan><tspan x="542.45">a</tspan><tspan x="550.09">slope</tspan></text>
<text x="474.50" y="507.60" font-size="9">that exceeds 15°.</text>
<text y="682.50" font-size="9"><tspan x="69.80">Never</tspan><tspan x="98.33">exceed</tspan><tspan x="132.37">25°</tspan><tspan x="149.50">when</tspan></text>
<text y="691.50" font-size="9"><tspan x="69.80">going</tspan><tspan x="98.19">down</tspan><tspan x="125.59">or</tspan><tspan x="138.49">backing</tspan></text>
<text x="69.80" y="700.50" font-size="9">up a slope.</text>
<text y="682.60" font-size="9"><tspan x="197.50">To</tspan><tspan x="211.33">leave</tspan><tspan x="237.36">excavator,</tspan><tspan x="284.89">lower</tspan></text>
<text x="197.50" y="691.60" font-size="9">the attachment.</text>
<text x="197.50" y="709.60" font-size="9">Stop the engine.</text>
<text x="337.40" y="682.60" font-size="9">Fasten seat belt securely.</text>
<text y="700.60" font-size="9"><tspan x="337.40">Operate</tspan><tspan x="381.95">controls</tspan><tspan x="428.00">only</tspan></text>
<text x="337.40" y="709.60" font-size="9">from operator’s seat.</text>
<text x="388.30" y="459.80" font-size="8.6" textLength="52.8" lengthAdjust="spacingAndGlyphs">15° Maximum</text>
<text x="508.60" y="461.90" font-size="8.6" textLength="53.6" lengthAdjust="spacingAndGlyphs">15° Maximum</text>
<text x="103.80" y="647.70" font-size="8.6" textLength="53.4" lengthAdjust="spacingAndGlyphs">25° Maximum</text>
<text x="273.00" y="623.00" font-size="8.6" textLength="18.2" lengthAdjust="spacingAndGlyphs">Stop</text>
<text x="460.30" y="570.90" font-size="9">SAFETY EQUIPMENT</text>
<text x="465.60" y="588.80" font-size="9">1.</text>
<text x="478.00" y="588.80" font-size="9">Seat Belt</text>
<text x="465.60" y="597.75" font-size="9">2.</text>
<text x="478.00" y="597.75" font-size="9">Machine Safety Signs</text>
<text x="465.60" y="606.70" font-size="9">3.</text>
<text x="478.00" y="606.70" font-size="9">Grab Handles</text>
<text x="465.60" y="615.65" font-size="9">4.</text>
<text x="478.00" y="615.65" font-size="9">Slew Lock</text>
<text x="465.60" y="624.60" font-size="9">5.</text>
<text x="478.00" y="624.60" font-size="9">Safety Tread</text>
<text x="580.80" y="752.40" font-size="8.5" text-anchor="end" textLength="48.47" lengthAdjust="spacingAndGlyphs">OSW21-0808</text>
</g>
</svg>
</body></html>
